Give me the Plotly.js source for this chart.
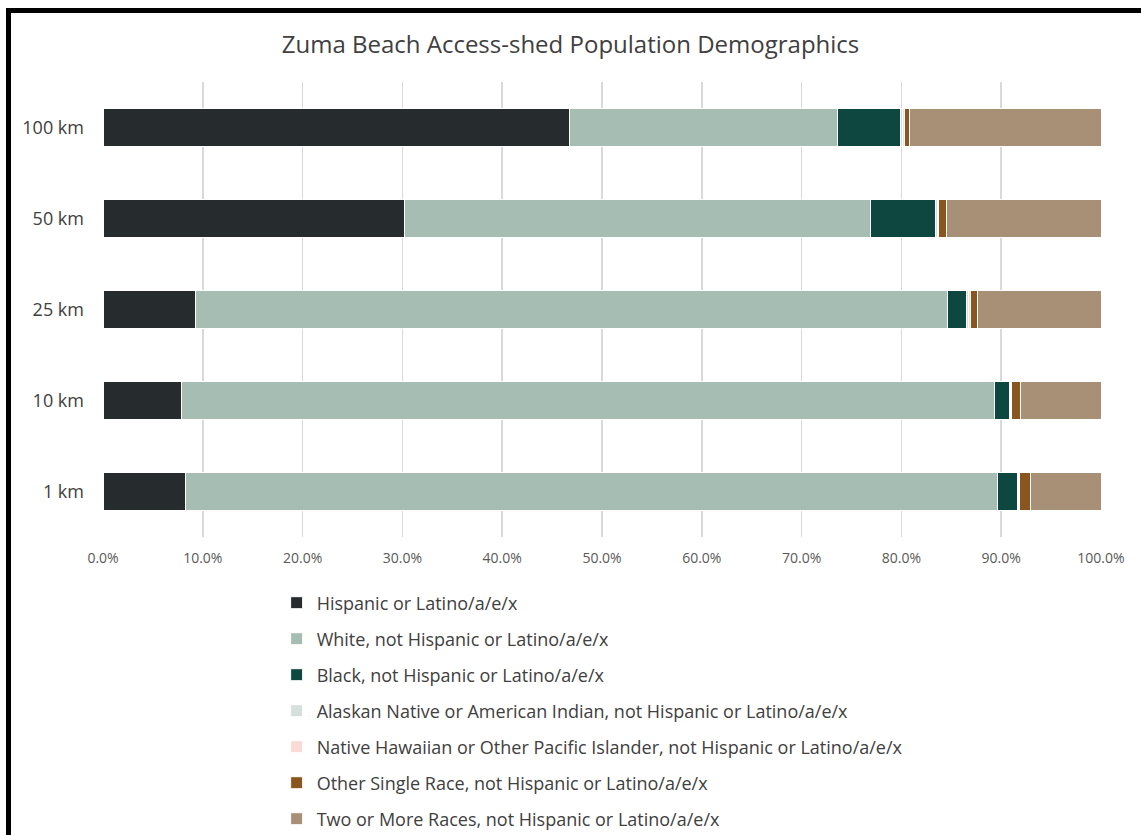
<!DOCTYPE html>
<html>
<head>
<meta charset="utf-8">
<script src="https://cdn.plot.ly/plotly-3.0.1.min.js"></script>
<style>
html,body{margin:0;padding:0;background:#fff;}
#wrap{position:relative;width:1141px;height:835px;overflow:hidden;}
#chart{position:absolute;left:0;top:0;width:1141px;height:835px;}
#frame{position:absolute;left:6px;top:8px;width:1200px;height:900px;border-left:5px solid #000;border-top:5px solid #000;pointer-events:none;}
</style>
</head>
<body>
<div id="wrap"><div id="chart"></div><div id="frame"></div></div>
<script>
const categories = ["1 km", "10 km", "25 km", "50 km", "100 km"];
const seriesNames = [
  "Hispanic or Latino/a/e/x",
  "White, not Hispanic or Latino/a/e/x",
  "Black, not Hispanic or Latino/a/e/x",
  "Alaskan Native or American Indian, not Hispanic or Latino/a/e/x",
  "Native Hawaiian or Other Pacific Islander, not Hispanic or Latino/a/e/x",
  "Other Single Race, not Hispanic or Latino/a/e/x",
  "Two or More Races, not Hispanic or Latino/a/e/x"
];
const hispanic   = [8.3, 7.9, 9.3, 30.2, 46.7];
const white      = [81.3, 81.4, 75.3, 46.7, 26.9];
const black      = [2.0, 1.5, 1.9, 6.5, 6.3];
const alaskan    = [0.1, 0.1, 0.2, 0.2, 0.2];
const hawaiian   = [0.1, 0.1, 0.2, 0.1, 0.2];
const otherRace  = [1.1, 0.9, 0.7, 0.8, 0.5];
const twoOrMore  = [7.1, 8.1, 12.4, 15.5, 19.2];
const colors = ["#262b2e", "#a6bdb3", "#0d473f", "#d5dfdb", "#fadbd6", "#8b5520", "#a89077"];
const seriesValues = [hispanic, white, black, alaskan, hawaiian, otherRace, twoOrMore];

const traces = seriesValues.map((vals, i) => ({
  type: "bar",
  orientation: "h",
  name: seriesNames[i],
  y: categories,
  x: vals,
  legendgroup: "g" + i,
  marker: {color: colors[i], line: {color: "#ffffff", width: 1}},
  hoverinfo: "skip"
}));

const layout = {
  width: 1141, height: 835,
  barmode: "stack",
  bargap: 0.58,
  paper_bgcolor: "#ffffff",
  plot_bgcolor: "#ffffff",
  font: {family: "Open Sans, Noto Sans, sans-serif", color: "#404040"},
  title: {text: "Zuma Beach Access-shed Population Demographics", x: 0.5, xanchor: "center", y: 0.946, yanchor: "middle",
          font: {size: 24, color: "#404040", family: "Open Sans, Noto Sans, sans-serif"}},
  margin: {l: 103, r: 40, t: 82, b: 298, pad: 0},
  xaxis: {
    range: [0, 100], dtick: 10, tick0: 0, tickformat: ".1f", ticksuffix: "%",
    showgrid: true, gridcolor: "#d9d9d9", gridwidth: 1.5, zeroline: false,
    showline: false, ticks: "", tickfont: {size: 14, color: "#595959"}, ticklabelstandoff: 11,
    fixedrange: true
  },
  yaxis: {
    type: "category", showgrid: false, zeroline: false, showline: false, ticks: "",
    tickfont: {size: 18, color: "#404040"}, ticklabelstandoff: 18, fixedrange: true
  },
  showlegend: true,
  legend: {
    orientation: "v", x: 0.174, xanchor: "left",
    yref: "container", y: 0.300, yanchor: "top",
    traceorder: "grouped", tracegroupgap: 9.6,
    font: {size: 18, color: "#404040", family: "Open Sans, Noto Sans, sans-serif"},
    bgcolor: "rgba(0,0,0,0)"
  }
};

Plotly.newPlot("chart", traces, layout, {displayModeBar: false, staticPlot: true});
</script>
</body>
</html>
